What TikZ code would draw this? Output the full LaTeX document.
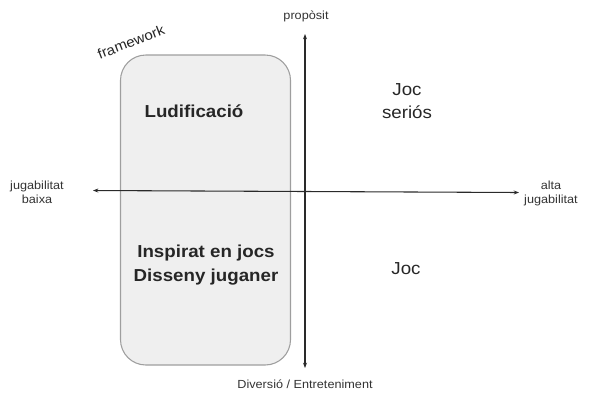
\documentclass[tikz,border=0pt]{standalone}
\usepackage{fontspec}
\setmainfont{Liberation Sans}[FakeStretch=1.08]
\usetikzlibrary{arrows.meta}
\definecolor{boxfill}{HTML}{EFEFEF}
\definecolor{boxline}{HTML}{9E9E9E}
\definecolor{axis}{HTML}{2A2A2A}
\begin{document}
\begin{tikzpicture}[x=0.75pt,y=-0.75pt,
  axisline/.style={draw=axis,line width=0.8pt,{Stealth[length=4pt,width=3pt]}-{Stealth[length=4pt,width=3pt]}},
  bigtext/.style={font=\fontsize{13}{17.5}\selectfont\bfseries,align=center,text=black!85},
  quadtext/.style={font=\fontsize{13}{17}\selectfont,align=center,text=black!85},
  smalltext/.style={font=\fontsize{8.8}{10.5}\selectfont,align=center,text=black!80}]
\useasboundingbox (0,0) rectangle (603,394);
\node[draw=boxline,fill=boxfill,line width=0.8pt,rounded corners=19pt,minimum width=170*0.75pt,minimum height=310*0.75pt,inner sep=0pt] (box) at (205.5,210) {};
\coordinate (top) at (305,34);
\coordinate (bot) at (305,368);
\coordinate (left) at (93,190.5);
\coordinate (right) at (519,192.5);
\draw[axisline] (top) -- (bot);
\draw[axisline] (left) -- (right);
\node[bigtext] (lud) at (194,111) {Ludificació};
\node[bigtext] (insp) at (206,265) {Inspirat en jocs\\Disseny juganer};
\node[quadtext] (seri) at (407,101) {Joc\\seriós};
\node[quadtext] (joc) at (406,269) {Joc};
\node[font=\fontsize{10.5}{12}\selectfont,rotate=21,text=black!85,inner sep=1pt] (fw) at (131,42) {framework};
\node[smalltext] (prop) at (306,16) {propòsit};
\node[smalltext] (baixa) at (37,192) {jugabilitat\\baixa};
\node[smalltext] (alta) at (551,193) {alta\\jugabilitat};
\node[smalltext] (div) at (305,384) {Diversió / Entreteniment};
\end{tikzpicture}
\end{document}
